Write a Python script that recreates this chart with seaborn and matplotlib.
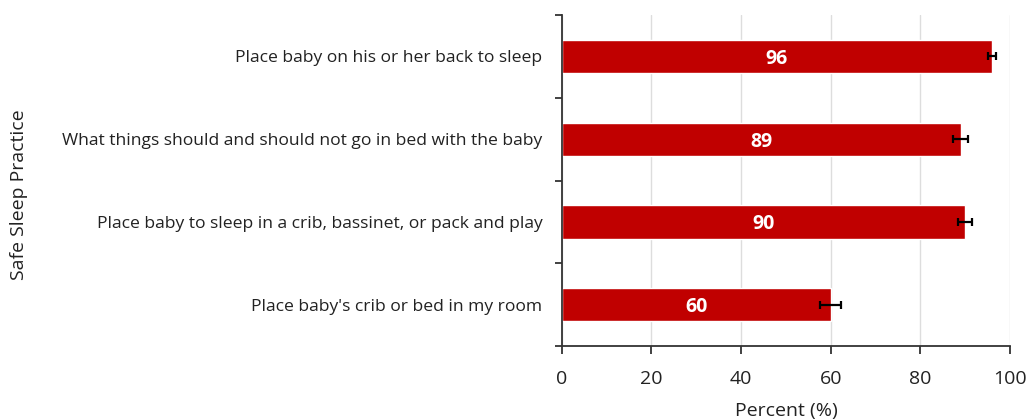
import matplotlib
matplotlib.use("Agg")
import matplotlib.pyplot as plt
import seaborn as sns
import pandas as pd
import numpy as np
from matplotlib.ticker import FixedLocator

categories = [
    "Place baby on his or her back to sleep",
    "What things should and should not go in bed with the baby",
    "Place baby to sleep in a crib, bassinet, or pack and play",
    "Place baby's crib or bed in my room",
]
values = [96, 89, 90, 60]
errors = [0.9, 1.7, 1.6, 2.4]
xticks = [0, 20, 40, 60, 80, 100]

sns.set_theme(style="white")
plt.rcParams['font.family'] = ['Open Sans', 'DejaVu Sans']

df = pd.DataFrame({"practice": categories, "percent": values})

fig = plt.figure(figsize=(10.29, 4.19), dpi=100)
ax = fig.add_axes([0.546, 0.174, 0.4355, 0.79])

sns.barplot(data=df, y="practice", x="percent", orient="h", color="#C00000",
            saturation=1, width=0.4, errorbar=None, ax=ax, zorder=2)
ax.errorbar(values, np.arange(len(values)), xerr=errors, fmt="none",
            ecolor="black", elinewidth=1.6, capsize=3, capthick=1.6, zorder=3)

for i, v in enumerate(values):
    ax.text(v / 2, i, f"{v}", color="white", ha="center", va="center_baseline",
            fontsize=14, fontweight="bold", zorder=4)

ax.set_xlim(0, 100)
ax.set_ylim(len(categories) - 0.5, -0.5)
ax.set_xticks(xticks)
ax.set_xticklabels([str(t) for t in xticks], fontsize=14, color="#222222")
ax.set_yticks(range(len(categories)))
ax.set_yticklabels(categories, fontsize=12.6, color="#222222")
ax.yaxis.set_minor_locator(FixedLocator(np.arange(-0.5, len(categories), 1.0)))
ax.tick_params(axis="y", which="major", left=True, length=0, pad=14)
ax.tick_params(axis="y", which="minor", left=True, length=5, width=1.3,
               color="#333333", direction="out")
ax.tick_params(axis="x", which="major", bottom=True, length=6, width=1.3,
               color="#333333", direction="out", pad=11)

ax.grid(axis="x", color="#dddddd", linewidth=1, zorder=0)
ax.set_axisbelow(True)
sns.despine(ax=ax, top=True, right=True)
ax.spines["left"].set_color("#333333")
ax.spines["left"].set_linewidth(1.3)
ax.spines["bottom"].set_color("#333333")
ax.spines["bottom"].set_linewidth(1.3)

ax.set_xlabel("Percent (%)", fontsize=14, color="#222222", labelpad=10)
ax.set_ylabel("")
fig.text(0.018, 0.535, "Safe Sleep Practice", rotation=90, ha="center", va="center",
         fontsize=14, color="#222222")

fig.savefig("out.png", dpi=100)
